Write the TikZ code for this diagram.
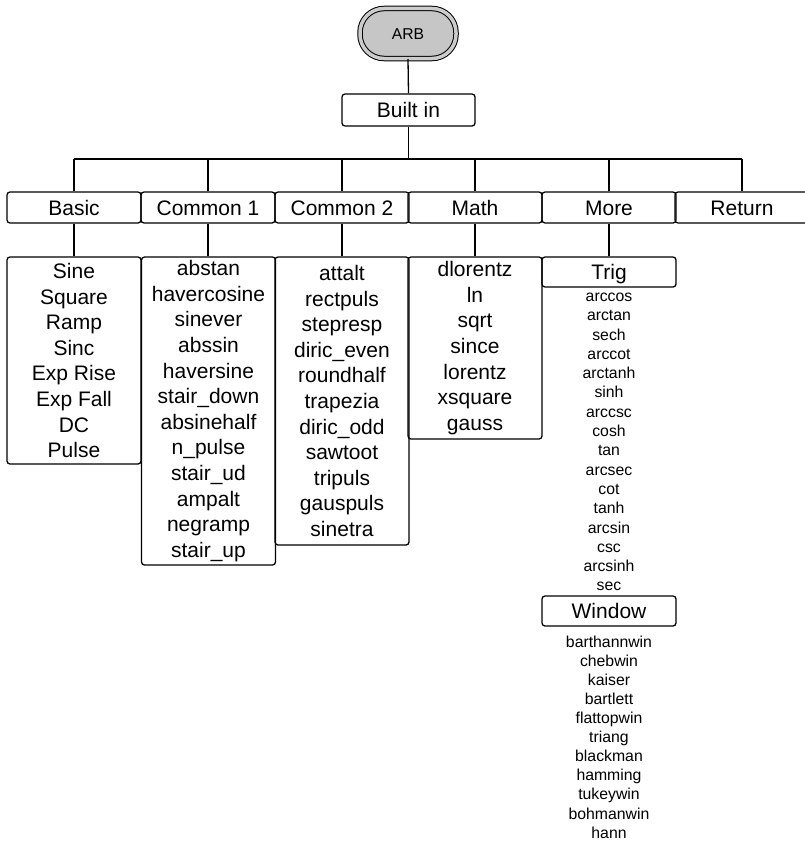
\documentclass[tikz,border=0pt]{standalone}
\usepackage{fontspec}
\setmainfont{Liberation Sans}
\begin{document}
\begin{tikzpicture}[x=1bp,y=-1bp,
  line width=1.3bp,
  big/.style={font=\fontsize{21bp}{25.6bp}\selectfont},
  small/.style={font=\fontsize{15.8bp}{19.3bp}\selectfont},
  menubox/.style={draw, rounded corners=3bp, big, inner sep=0pt, minimum width=134bp, minimum height=31bp, text height=15bp, text depth=0pt},
  listbox/.style={draw, rounded corners=3bp, big, inner sep=0pt, minimum width=134bp, align=center},
  listtext/.style={small, inner sep=0pt, align=center}]
\useasboundingbox (0,0) rectangle (805,842);
% root
\node[draw, fill=gray!45, double=gray!40, double distance=3.5bp, line width=1bp,
  rounded corners=24bp, minimum width=96bp, minimum height=50bp, inner sep=0pt,
  text height=11.3bp, text depth=0pt,
  font=\fontsize{15.7bp}{18bp}\selectfont] (arb) at (408,33.5) {ARB};
\node[menubox, minimum width=133bp, minimum height=32bp] (built) at (408.5,110) {Built in};
% first level
\node[menubox] (basic) at (74,207.5) {Basic};
\node[menubox] (com1) at (208,207.5) {Common 1};
\node[menubox] (com2) at (342,207.5) {Common 2};
\node[menubox] (math) at (475,207.5) {Math};
\node[menubox] (more) at (609,207.5) {More};
\node[menubox] (ret) at (742,207.5) {Return};
% lists
\node[listbox, minimum height=207bp] (lbasic) at (74,360.5)
  {Sine\\Square\\Ramp\\Sinc\\Exp Rise\\Exp Fall\\DC\\Pulse};
\node[listbox, minimum height=308bp] (lcom1) at (208.5,411)
  {abstan\\havercosine\\sinever\\abssin\\haversine\\stair\_down\\absinehalf\\n\_pulse\\stair\_ud\\ampalt\\negramp\\stair\_up};
\node[listbox, minimum height=288bp] (lcom2) at (342,401)
  {attalt\\rectpuls\\stepresp\\diric\_even\\roundhalf\\trapezia\\diric\_odd\\sawtoot\\tripuls\\gauspuls\\sinetra};
\node[listbox, minimum height=182bp] (lmath) at (475,348)
  {dlorentz\\ln\\sqrt\\since\\lorentz\\xsquare\\gauss};
\node[menubox, minimum height=30bp] (trig) at (609,272) {Trig};
\node[listtext] (ltrig) at (609,442)
  {arccos\\arctan\\sech\\arccot\\arctanh\\sinh\\arccsc\\cosh\\tan\\arcsec\\cot\\tanh\\arcsin\\csc\\arcsinh\\sec};
\node[menubox, minimum height=30bp] (window) at (609,611) {Window};
\node[listtext, font=\fontsize{15.8bp}{19.1bp}\selectfont] (lwin) at (609,737)
  {barthannwin\\chebwin\\kaiser\\bartlett\\flattopwin\\triang\\blackman\\hamming\\tukeywin\\bohmanwin\\hann};
% connectors
\coordinate (busL) at (74,159);
\coordinate (busR) at (742,159);
\draw (arb.south) -- (built.north);
\draw (built.south) -- (built.south |- busL);
\draw (busL) -- (busR);
\foreach \n in {basic,com1,com2,math,more,ret}
  \draw (\n.north) -- (\n.north |- busL);
\draw (basic.south) -- (lbasic.north -| basic.south);
\draw (com1.south) -- (lcom1.north -| com1.south);
\draw (com2.south) -- (lcom2.north -| com2.south);
\draw (math.south) -- (lmath.north -| math.south);
\draw (more.south) -- (trig.north);
\end{tikzpicture}
\end{document}
